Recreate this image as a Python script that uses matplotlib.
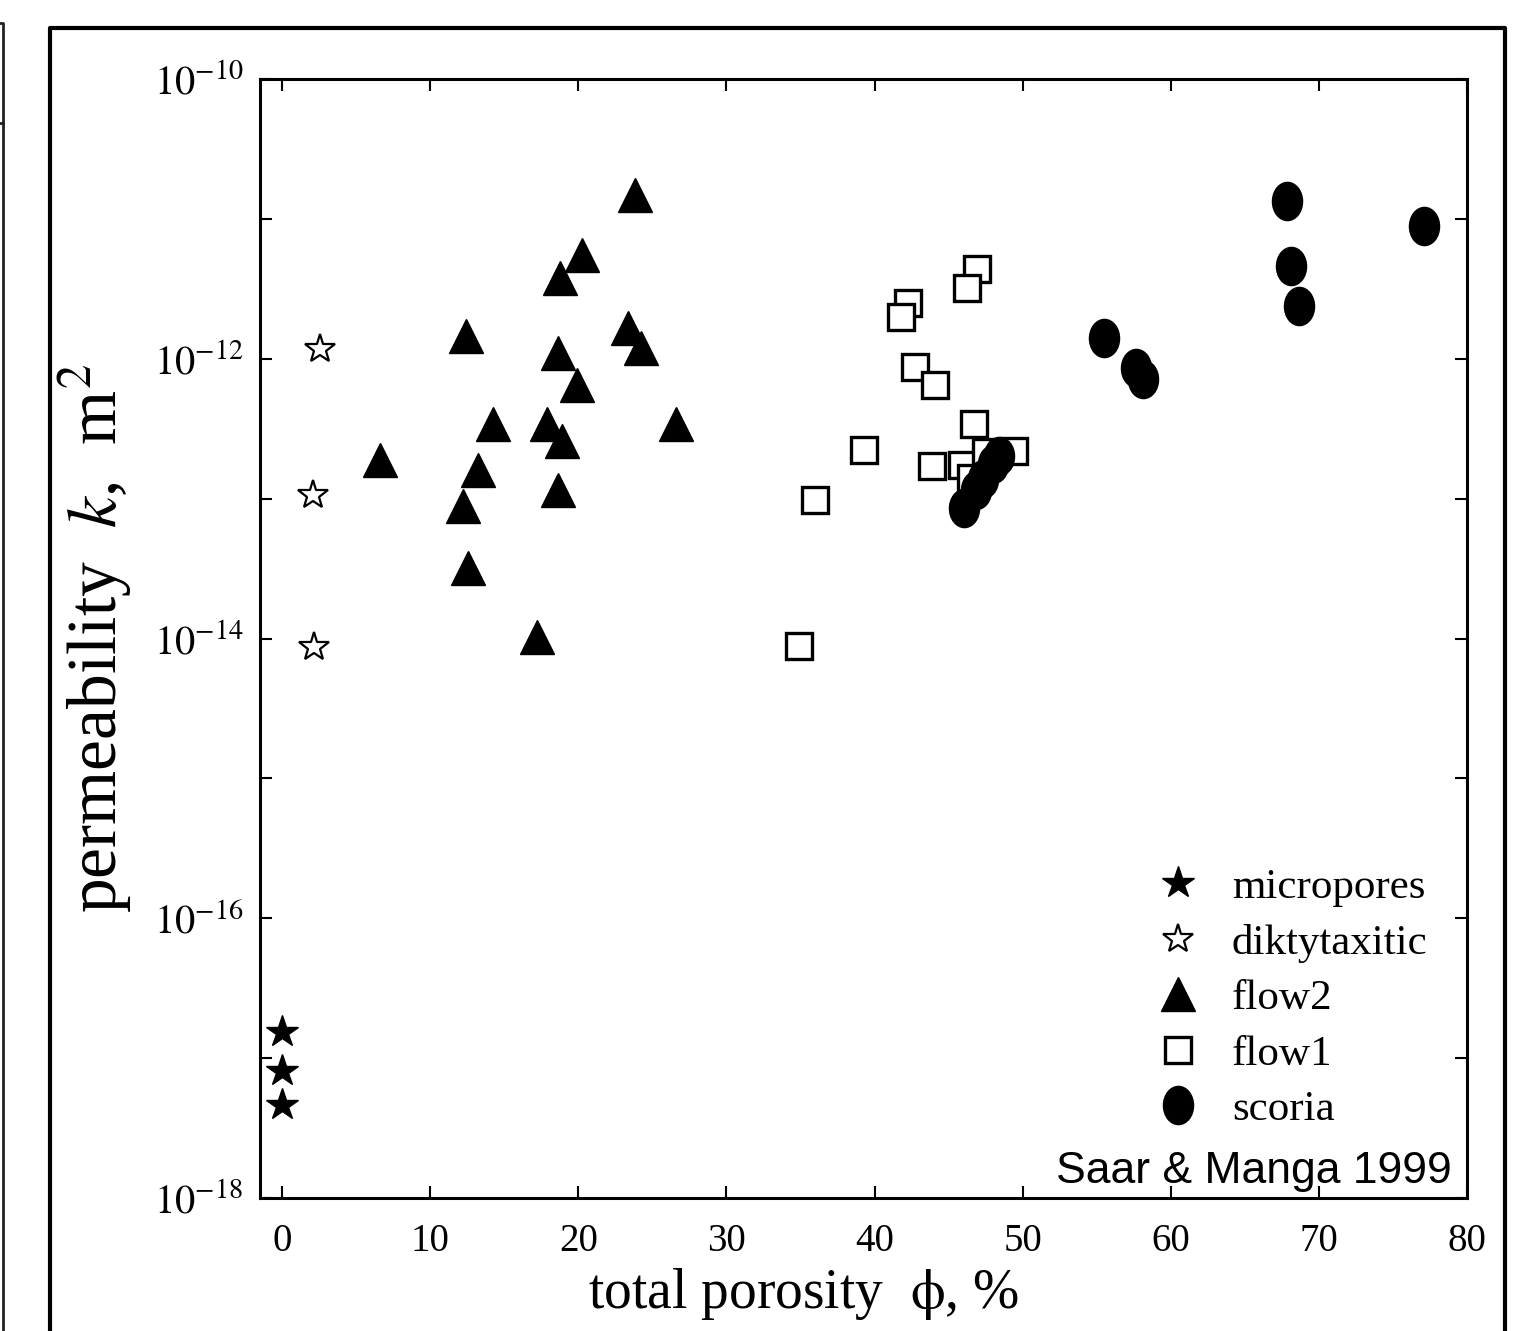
import matplotlib
matplotlib.use("Agg")
import matplotlib.pyplot as plt
import numpy as np
from matplotlib.path import Path
from matplotlib.lines import Line2D

plt.rcParams['font.family'] = ['Liberation Serif', 'DejaVu Serif']
plt.rcParams['mathtext.fontset'] = 'stix'

# ---- data ----
micro_phi = [0.0, 0.0, 0.0]
micro_k = [1.55e-17, 8.1e-18, 4.6e-18]

dikty_phi = [2.57, 2.09, 2.16]
dikty_k = [1.17e-12, 1.07e-13, 8.7e-15]

flow2_phi = [23.85, 20.27, 18.78, 12.43, 23.38, 24.26, 18.65, 19.93, 14.26,
             17.91, 18.92, 26.62, 6.62, 13.24, 12.23, 18.65, 12.57, 17.23]
flow2_k = [1.48e-11, 5.5e-12, 3.8e-12, 1.45e-12, 1.66e-12, 1.2e-12, 1.1e-12,
           6.5e-13, 3.4e-13, 3.4e-13, 2.6e-13, 3.4e-13, 1.9e-13, 1.6e-13,
           8.9e-14, 1.15e-13, 3.2e-14, 1.02e-14]

flow1_phi = [46.94, 46.26, 42.25, 41.80, 42.70, 44.05, 46.71, 39.28, 43.90,
             45.93, 47.50, 49.41, 46.49, 36.01, 34.93]
flow1_k = [4.4e-12, 3.2e-12, 2.5e-12, 2.0e-12, 8.7e-13, 6.5e-13, 3.4e-13,
           2.24e-13, 1.7e-13, 1.74e-13, 2.14e-13, 2.2e-13, 1.4e-13, 9.8e-14,
           8.9e-15]

scoria_phi = [67.82, 77.11, 68.11, 68.67, 55.49, 57.64, 58.11, 46.01, 46.82,
              47.30, 47.97, 48.38]
scoria_k = [1.35e-11, 8.9e-12, 4.6e-12, 2.4e-12, 1.4e-12, 8.6e-13, 7.2e-13,
            8.5e-14, 1.15e-13, 1.39e-13, 1.78e-13, 2.03e-13]

series_labels = ['micropores', 'diktytaxitic', 'flow2', 'flow1', 'scoria']
x_ticks = [0, 10, 20, 30, 40, 50, 60, 70, 80]
y_exponents = [-18, -17, -16, -15, -14, -13, -12, -11, -10]
y_labelled = [-18, -16, -14, -12, -10]

W, H = 1536, 1331
fig = plt.figure(figsize=(W / 100, H / 100), dpi=100)
ax = fig.add_axes([260 / W, 133 / H, 1207 / W, 1119 / H])

# elliptical (vertically stretched) circle marker
circ = Path.unit_circle()
ell = Path(circ.vertices * np.array([1.0, 1.27]), circ.codes)

ax.plot(micro_phi, micro_k, ls='none', marker='*', ms=24, color='black',
        label=series_labels[0])
ax.plot(dikty_phi, dikty_k, ls='none', marker='*', ms=22, mfc='white',
        mec='black', mew=1.6, label=series_labels[1])
ax.plot(flow2_phi, flow2_k, ls='none', marker='^', ms=25, color='black',
        label=series_labels[2])
ax.plot(flow1_phi, flow1_k, ls='none', marker='s', ms=18.5, mfc='white',
        mec='black', mew=2.4, label=series_labels[3])
ax.plot(scoria_phi, scoria_k, ls='none', marker=ell, ms=27.5, color='black',
        label=series_labels[4])

ax.set_yscale('log')
ax.set_xlim(-1.49, 80)
ax.set_ylim(1e-18, 1e-10)

ax.set_xticks(x_ticks)
ax.set_xticklabels([str(v) for v in x_ticks])
ax.set_yticks([10.0 ** e for e in y_exponents])
ax.set_yticklabels([('$10^{%d}$' % e) if e in y_labelled else '' for e in y_exponents])
ax.yaxis.set_minor_locator(matplotlib.ticker.NullLocator())

ax.tick_params(axis='both', which='major', direction='in', length=8.5, width=1.5,
               top=True, right=True, color='black')
ax.tick_params(axis='x', labelsize=28, pad=18)
ax.tick_params(axis='y', labelsize=29, pad=12)
for s in ax.spines.values():
    s.set_linewidth(2.2)

ax.set_ylabel('permeability  $k$,  m$^2$', fontsize=50, labelpad=14)
ax.set_xlabel('total porosity  $\\mathrm{\\phi}$, %', fontsize=40)
ax.xaxis.set_label_coords(0.45, -0.0605)
ax.xaxis.label.set_va('top')

leg = ax.legend(loc='center', bbox_to_anchor=(0.855, 0.178), frameon=False,
                fontsize=31, handlelength=1.0, handletextpad=0.75,
                labelspacing=0.38, borderpad=0.2)

ax.text(0.9876, 0.0134, 'Saar & Manga 1999', transform=ax.transAxes,
        ha='right', va='baseline', fontsize=32, family='Liberation Sans')

# outer frames (figure decoration)
def fx(px):
    return px / W

def fy(py):
    return 1 - py / H

fig.add_artist(Line2D([fx(50), fx(50), fx(1505), fx(1505)],
                      [fy(1340), fy(28), fy(28), fy(1340)],
                      transform=fig.transFigure, color='black', lw=3.0))
fig.add_artist(Line2D([fx(0), fx(3), fx(3)], [fy(23), fy(23), fy(1340)],
                      transform=fig.transFigure, color='#222222', lw=2.0))
fig.add_artist(Line2D([fx(0), fx(3)], [fy(123), fy(123)],
                      transform=fig.transFigure, color='#222222', lw=2.0))

fig.savefig('out.png', dpi=100)
